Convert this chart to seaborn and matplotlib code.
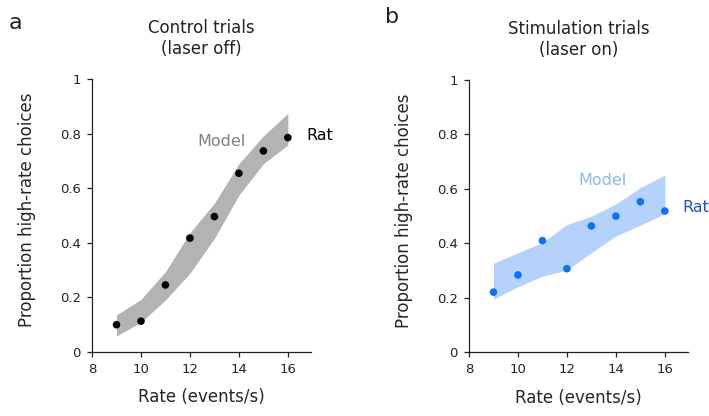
import matplotlib
matplotlib.use("Agg")
import matplotlib.pyplot as plt
import seaborn as sns
import pandas as pd

# Stimulus rates (events/s)
rates = [9, 10, 11, 12, 13, 14, 15, 16]

# Control trials (laser off)
ctrl_rat = [0.099, 0.112, 0.245, 0.417, 0.496, 0.655, 0.737, 0.786]
ctrl_model_low = [0.058, 0.108, 0.190, 0.288, 0.416, 0.575, 0.690, 0.759]
ctrl_model_high = [0.135, 0.192, 0.294, 0.437, 0.545, 0.690, 0.792, 0.875]

# Stimulation trials (laser on)
stim_rat = [0.221, 0.284, 0.410, 0.307, 0.464, 0.500, 0.553, 0.519]
stim_model_low = [0.195, 0.241, 0.280, 0.302, 0.366, 0.427, 0.467, 0.508]
stim_model_high = [0.327, 0.366, 0.403, 0.469, 0.500, 0.545, 0.605, 0.651]

yticks = [0, 0.2, 0.4, 0.6, 0.8, 1]
yticklabels = ["0", "0.2", "0.4", "0.6", "0.8", "1"]
xticks = [8, 10, 12, 14, 16]

sns.set_style("ticks")
plt.rcParams["font.family"] = ["DejaVu Sans"]
plt.rcParams["text.color"] = "#222222"

fig = plt.figure(figsize=(7.09, 4.16), dpi=100)
ax_a = fig.add_axes([0.1298, 0.1546, 0.309, 0.6548])
ax_b = fig.add_axes([0.6615, 0.1531, 0.309, 0.6546])

panels = [
    (ax_a, ctrl_rat, ctrl_model_low, ctrl_model_high,
     "#b3b3b3", "#000000", "#808080", "#000000",
     "Control trials\n(laser off)", (13.3, 0.772), (17.3, 0.795)),
    (ax_b, stim_rat, stim_model_low, stim_model_high,
     "#b4d2fb", "#1070f5", "#8db7f2", "#1d55c6",
     "Stimulation trials\n(laser on)", (13.45, 0.63), (17.25, 0.53)),
]

for (ax, rat, lo, hi, band_c, pt_c, model_c, rat_c,
     title, model_xy, rat_xy) in panels:
    df = pd.DataFrame({"rate": rates, "p": rat, "lo": lo, "hi": hi})
    ax.fill_between(df["rate"], df["lo"], df["hi"], color=band_c,
                    linewidth=0, zorder=1)
    sns.scatterplot(data=df, x="rate", y="p", ax=ax, color=pt_c, s=30,
                    edgecolor="none", zorder=3, clip_on=False)
    ax.set_xlim(8, 16.95)
    ax.set_ylim(0, 1)
    ax.set_xticks(xticks)
    ax.set_yticks(yticks)
    ax.set_yticklabels(yticklabels)
    ax.tick_params(direction="out", length=3.5, width=0.9, labelsize=9.5,
                   colors="#222222", pad=4.5)
    for s in ("left", "bottom"):
        ax.spines[s].set_linewidth(0.9)
        ax.spines[s].set_color("#222222")
    sns.despine(ax=ax)
    ax.set_xlabel("Rate (events/s)", fontsize=12)
    ax.set_ylabel("Proportion high-rate choices", fontsize=12)
    ax.xaxis.set_label_coords(0.5, -0.135)
    ax.yaxis.set_label_coords(-0.255, 0.52)
    ax.set_title(title, fontsize=12, pad=18, linespacing=1.2)
    ax.text(model_xy[0], model_xy[1], "Model", color=model_c, fontsize=11.5,
            ha="center", va="center")
    ax.text(rat_xy[0], rat_xy[1], "Rat", color=rat_c, fontsize=11.5,
            ha="center", va="center", clip_on=False)

fig.text(0.012, 0.945, "a", fontsize=16, va="center", ha="left")
fig.text(0.543, 0.958, "b", fontsize=16, va="center", ha="left")

fig.savefig("out.png", dpi=100)
